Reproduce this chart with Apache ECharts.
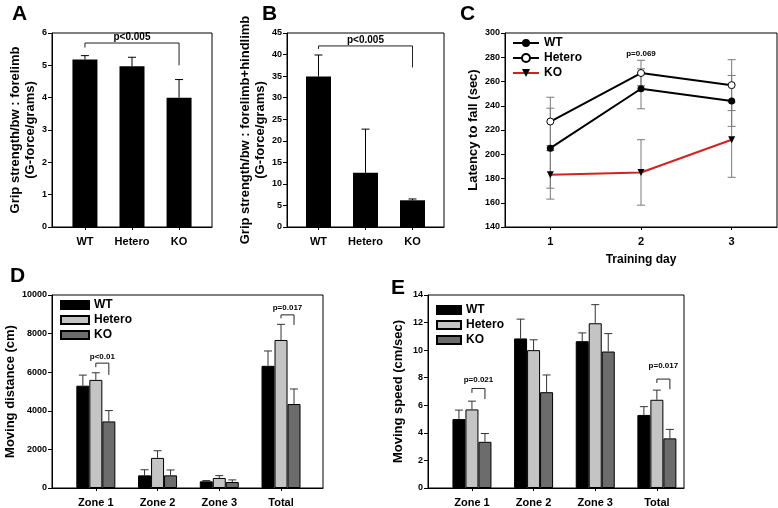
<!DOCTYPE html>
<html><head><meta charset="utf-8">
<script src="https://cdn.jsdelivr.net/npm/echarts@6/dist/echarts.min.js"></script>
<style>html,body{margin:0;padding:0;background:#fff}#c{width:778px;height:508px}</style>
</head><body><div id="c"></div>
<script>
// ---------- data ----------
const genotypes = ['WT', 'Hetero', 'KO'];
// A: grip strength forelimb
const gripFore = [5.18, 4.97, 4.0];
const gripForeErr = [0.12, 0.28, 0.56];
// B: grip strength forelimb+hindlimb
const gripAll = [34.9, 12.6, 6.2];
const gripAllErr = [5.0, 10.1, 0.3];
// C: rotarod latency
const days = ['1', '2', '3'];
const latWT = [205, 254, 244];
const latWTErr = [33, 16.5, 21];
const latHet = [227, 267, 257];
const latHetErr = [20, 10.5, 21];
const latKO = [183, 185, 212];
const latKOErr = [20, 27, 31];
// D: moving distance
const zones = ['Zone 1', 'Zone 2', 'Zone 3', 'Total'];
const distWT = [5300, 655, 345, 6330];
const distWTErr = [550, 290, 40, 770];
const distHet = [5600, 1560, 520, 7670];
const distHetErr = [370, 370, 120, 810];
const distKO = [3450, 655, 310, 4350];
const distKOErr = [560, 280, 110, 780];
// E: moving speed
const spdWT = [5.0, 10.85, 10.65, 5.3];
const spdWTErr = [0.65, 1.4, 0.6, 0.6];
const spdHet = [5.7, 10.0, 11.95, 6.4];
const spdHetErr = [0.6, 0.75, 1.35, 0.7];
const spdKO = [3.35, 6.95, 9.9, 3.6];
const spdKOErr = [0.6, 1.25, 1.3, 0.65];
// significance annotations: [x1, x2, yBar, yLeftEnd, yRightEnd, yText]
const sigA = [[1, 3, 5.69, 5.55, 5.0, 5.86]];
const sigALabels = ['p<0.005'];
const sigB = [[1, 3, 42.0, 41.3, 37.0, 43.4]];
const sigBLabels = ['p<0.005'];
const sigC = [[2, 283]];
const sigCLabels = ['p=0.069'];
const sigD = [[1, 1, 6470, 6260, 5860, 6780], [4, 4, 8970, 8790, 8450, 9360]];
const sigDLabels = ['p<0.01', 'p=0.017'];
const sigE = [[1, 1, 7.22, 6.9, 6.45, 7.85], [4, 4, 7.9, 7.62, 7.17, 8.9]];
const sigELabels = ['p=0.021', 'p=0.017'];

// ---------- styling helpers ----------
const fam = '"Liberation Sans", Arial, sans-serif';
const BW = 13; // grouped bar width in px
const colWT = '#000000', colHet = '#c4c4c4', colKO = '#6c6c6c';

function yAx(grid, min, max, interval, name, gap) {
  return {
    type: 'value', gridIndex: grid, min: min, max: max, interval: interval,
    name: name, nameLocation: 'middle', nameRotate: 90, nameGap: gap,
    nameTextStyle: { fontFamily: fam, fontWeight: 'bold', fontSize: 13, color: '#000', lineHeight: 15 },
    axisLine: { show: true, onZero: false, lineStyle: { color: '#000', width: 1 } },
    axisTick: { show: true, length: 4, lineStyle: { color: '#000' } },
    axisLabel: { fontFamily: fam, fontWeight: 'bold', fontSize: 9, color: '#000', margin: 5,
      formatter: v => String(v) },
    splitLine: { show: false }
  };
}
function xAx(grid, min, max, labels, extra) {
  const vals = labels.map((_, i) => i + 1);
  return Object.assign({
    type: 'value', gridIndex: grid, min: min, max: max,
    axisLine: { show: true, onZero: false, lineStyle: { color: '#000', width: 1 } },
    axisTick: { show: true, length: 3, customValues: vals, lineStyle: { color: '#000' } },
    axisLabel: { customValues: vals, formatter: v => labels[Math.round(v) - 1],
      fontFamily: fam, fontWeight: 'bold', fontSize: 11, color: '#000', margin: 9 },
    splitLine: { show: false }
  }, extra || {});
}
function barErr(ax, means, errs, offset, color) {
  return {
    type: 'custom', xAxisIndex: ax, yAxisIndex: ax, z: 4, silent: true,
    data: means.map((m, i) => [i + 1, m, m + errs[i]]),
    encode: { x: 0, y: [1, 2] },
    renderItem: (p, api) => {
      const a = api.coord([api.value(0), api.value(1)]);
      const b = api.coord([api.value(0), api.value(2)]);
      const x = a[0] + offset;
      return { type: 'group', children: [
        { type: 'line', shape: { x1: x, y1: a[1], x2: x, y2: b[1] }, style: { stroke: color, lineWidth: 1 } },
        { type: 'line', shape: { x1: x - 4, y1: b[1], x2: x + 4, y2: b[1] }, style: { stroke: color, lineWidth: 1 } }
      ] };
    }
  };
}
function lineErr(ax, means, errs) {
  return {
    type: 'custom', xAxisIndex: ax, yAxisIndex: ax, z: 1, silent: true,
    data: means.map((m, i) => [i + 1, m - errs[i], m + errs[i]]),
    encode: { x: 0, y: [1, 2] },
    renderItem: (p, api) => {
      const a = api.coord([api.value(0), api.value(1)]);
      const b = api.coord([api.value(0), api.value(2)]);
      const s = { stroke: '#7a7a7a', lineWidth: 1 };
      return { type: 'group', children: [
        { type: 'line', shape: { x1: a[0], y1: a[1], x2: a[0], y2: b[1] }, style: s },
        { type: 'line', shape: { x1: a[0] - 4, y1: a[1], x2: a[0] + 4, y2: a[1] }, style: s },
        { type: 'line', shape: { x1: a[0] - 4, y1: b[1], x2: a[0] + 4, y2: b[1] }, style: s }
      ] };
    }
  };
}
function sigSeries(ax, rows, labels, offL, offR, fsize) {
  return {
    type: 'custom', xAxisIndex: ax, yAxisIndex: ax, z: 6, silent: true,
    data: rows, encode: { x: [0, 1], y: [2, 3, 4] },
    renderItem: (p, api) => {
      const l0 = api.coord([api.value(0), api.value(3)]);
      const l1 = api.coord([api.value(0), api.value(2)]);
      const r1 = api.coord([api.value(1), api.value(2)]);
      const r0 = api.coord([api.value(1), api.value(4)]);
      const t = api.coord([api.value(0), api.value(5)]);
      const xl = l0[0] + offL, xr = r0[0] + offR;
      return { type: 'group', children: [
        { type: 'polyline', shape: { points: [[xl, l0[1]], [xl, l1[1]], [xr, r1[1]], [xr, r0[1]]] },
          style: { stroke: '#222', lineWidth: 1, fill: null } },
        { type: 'text', x: (xl + xr) / 2, y: t[1],
          style: { text: labels[p.dataIndex], fontFamily: fam, fontWeight: 'bold', fontSize: fsize,
            fill: '#000', align: 'center', verticalAlign: 'middle' } }
      ] };
    }
  };
}
function textSeries(ax, rows, labels, fsize) {
  return {
    type: 'custom', xAxisIndex: ax, yAxisIndex: ax, z: 6, silent: true,
    data: rows, encode: { x: 0, y: 1 },
    renderItem: (p, api) => {
      const c = api.coord([api.value(0), api.value(1)]);
      return { type: 'text', x: c[0], y: c[1],
        style: { text: labels[p.dataIndex], fontFamily: fam, fontWeight: 'bold', fontSize: fsize,
          fill: '#000', align: 'center', verticalAlign: 'middle' } };
    }
  };
}
function groupedBar(ax, name, vals, color) {
  return { type: 'bar', name: name, xAxisIndex: ax, yAxisIndex: ax, barWidth: BW, barGap: '0%',
    data: vals.map((v, i) => [i + 1, v]), silent: true,
    itemStyle: { color: color, borderColor: '#000', borderWidth: 1 } };
}
const stripName = n => n.replace(/_.*$/, '');
const legendText = { fontFamily: fam, fontWeight: 'bold', fontSize: 12, color: '#000', lineHeight: 12 };
const letter = (t, l, tp) => ({ text: t, left: l, top: tp, padding: 0,
  textStyle: { fontFamily: fam, fontWeight: 'bold', fontSize: 21, color: '#000' } });
const gridStyle = { show: true, borderColor: '#000', borderWidth: 1, backgroundColor: 'transparent', containLabel: false };

const option = {
  animation: false,
  backgroundColor: '#fff',
  title: [letter('A', 12, 4), letter('B', 262, 4), letter('C', 460, 4), letter('D', 10, 266), letter('E', 391, 278)],
  grid: [
    Object.assign({ left: 52, top: 33, width: 160, height: 194 }, gridStyle),
    Object.assign({ left: 287, top: 33, width: 157, height: 194 }, gridStyle),
    Object.assign({ left: 505, top: 33, width: 272, height: 194 }, gridStyle),
    Object.assign({ left: 52, top: 295, width: 271, height: 193 }, gridStyle),
    Object.assign({ left: 428, top: 295, width: 256, height: 194 }, gridStyle)
  ],
  xAxis: [
    xAx(0, 0.3, 3.7, genotypes),
    xAx(1, 0.33, 3.67, genotypes),
    xAx(2, 0.5, 3.5, days, { name: 'Training day', nameLocation: 'middle', nameGap: 27,
      nameTextStyle: { fontFamily: fam, fontWeight: 'bold', fontSize: 12, color: '#000' } }),
    xAx(3, 0.29, 4.68, zones),
    xAx(4, 0.287, 4.44, zones)
  ],
  yAxis: [
    yAx(0, 0, 6, 1, 'Grip strength/bw : forelimb\n(G-force/grams)', 14),
    yAx(1, 0, 45, 5, 'Grip strength/bw : forelimb+hindlimb\n(G-force/grams)', 19),
    yAx(2, 140, 300, 20, 'Latency to fall (sec)', 19),
    yAx(3, 0, 10000, 2000, 'Moving distance (cm)', 24),
    yAx(4, 0, 14, 2, 'Moving speed (cm/sec)', 22)
  ],
  legend: [
    { data: ['WT_C', 'Hetero_C', 'KO_C'], left: 512, top: 37, orient: 'vertical', itemWidth: 26, itemHeight: 10,
      itemGap: 3, formatter: stripName, textStyle: legendText, selectedMode: false, padding: 0 },
    { data: ['WT_D', 'Hetero_D', 'KO_D'], left: 60, top: 299, orient: 'vertical', itemWidth: 28, itemHeight: 8,
      itemGap: 3, icon: 'rect', formatter: stripName, textStyle: legendText, selectedMode: false, padding: 0 },
    { data: ['WT_E', 'Hetero_E', 'KO_E'], left: 436, top: 304, orient: 'vertical', itemWidth: 24, itemHeight: 8,
      itemGap: 3, icon: 'rect', formatter: stripName, textStyle: legendText, selectedMode: false, padding: 0 }
  ],
  series: [
    // A
    { type: 'bar', name: 'A', xAxisIndex: 0, yAxisIndex: 0, barWidth: 25, silent: true,
      data: gripFore.map((v, i) => [i + 1, v]), itemStyle: { color: '#000' } },
    barErr(0, gripFore, gripForeErr, 0, '#000'),
    sigSeries(0, sigA, sigALabels, 0, 0, 10),
    // B
    { type: 'bar', name: 'B', xAxisIndex: 1, yAxisIndex: 1, barWidth: 25, silent: true,
      data: gripAll.map((v, i) => [i + 1, v]), itemStyle: { color: '#000' } },
    barErr(1, gripAll, gripAllErr, 0, '#000'),
    sigSeries(1, sigB, sigBLabels, 0, 0, 10),
    // C
    lineErr(2, latWT, latWTErr),
    lineErr(2, latHet, latHetErr),
    lineErr(2, latKO, latKOErr),
    { type: 'line', name: 'WT_C', xAxisIndex: 2, yAxisIndex: 2, z: 5, silent: true,
      data: latWT.map((v, i) => [i + 1, v]), symbol: 'circle', symbolSize: 7,
      itemStyle: { color: '#000' }, lineStyle: { color: '#000', width: 2 } },
    { type: 'line', name: 'Hetero_C', xAxisIndex: 2, yAxisIndex: 2, z: 5, silent: true,
      data: latHet.map((v, i) => [i + 1, v]), symbol: 'circle', symbolSize: 7,
      itemStyle: { color: '#fff', borderColor: '#000', borderWidth: 1 }, lineStyle: { color: '#000', width: 2 } },
    { type: 'line', name: 'KO_C', xAxisIndex: 2, yAxisIndex: 2, z: 5, silent: true,
      data: latKO.map((v, i) => [i + 1, v]), symbol: 'triangle', symbolRotate: 180, symbolSize: 7,
      itemStyle: { color: '#000' }, lineStyle: { color: '#d42020', width: 2 } },
    textSeries(2, sigC, sigCLabels, 8),
    // D
    groupedBar(3, 'WT_D', distWT, colWT),
    groupedBar(3, 'Hetero_D', distHet, colHet),
    groupedBar(3, 'KO_D', distKO, colKO),
    barErr(3, distWT, distWTErr, -BW, '#333'),
    barErr(3, distHet, distHetErr, 0, '#333'),
    barErr(3, distKO, distKOErr, BW, '#333'),
    sigSeries(3, sigD, sigDLabels, 0, BW, 8),
    // E
    groupedBar(4, 'WT_E', spdWT, colWT),
    groupedBar(4, 'Hetero_E', spdHet, colHet),
    groupedBar(4, 'KO_E', spdKO, colKO),
    barErr(4, spdWT, spdWTErr, -BW, '#333'),
    barErr(4, spdHet, spdHetErr, 0, '#333'),
    barErr(4, spdKO, spdKOErr, BW, '#333'),
    sigSeries(4, sigE, sigELabels, 0, BW, 8)
  ]
};
const chart = echarts.init(document.getElementById('c'), null, { renderer: 'canvas' });
chart.setOption(option);
</script></body></html>
